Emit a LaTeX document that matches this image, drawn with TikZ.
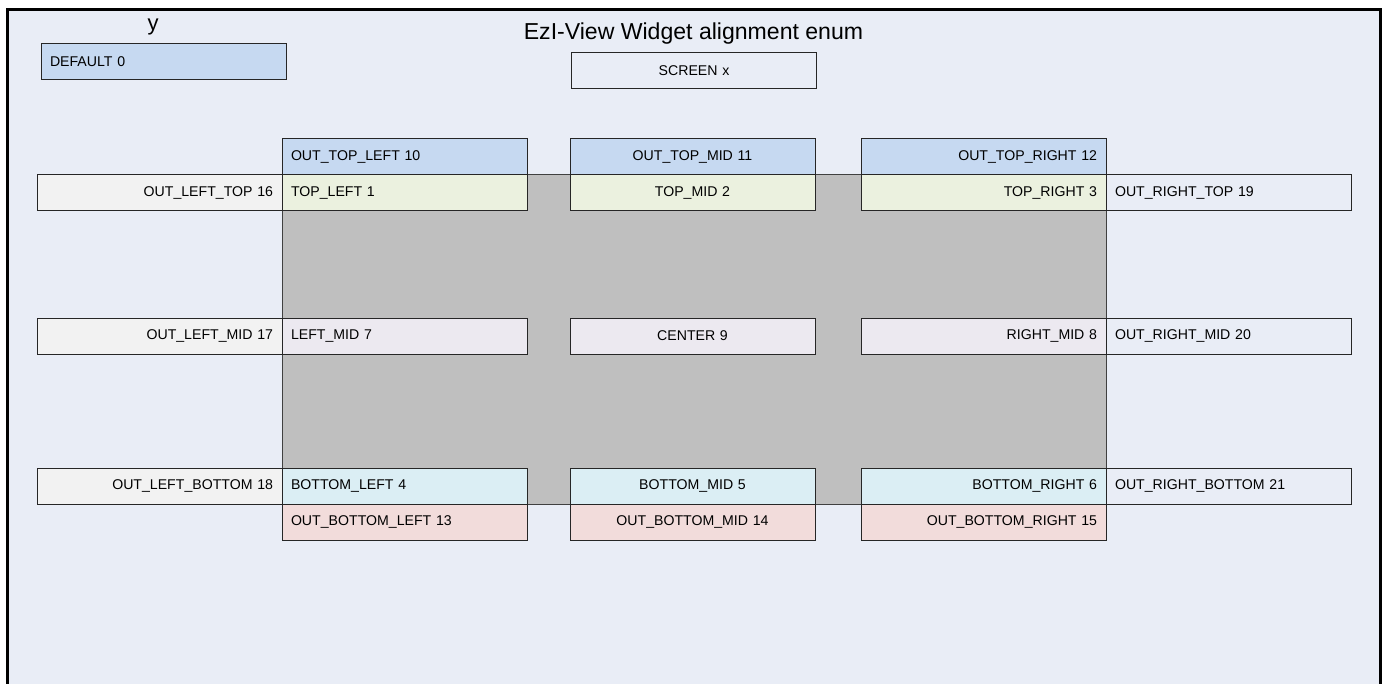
\documentclass[tikz,border=0pt]{standalone}
\usepackage{fontspec}
\setmainfont{Liberation Sans}
\definecolor{canvas}{HTML}{E9EDF6}
\definecolor{outtop}{HTML}{C6D9F1}
\definecolor{topc}{HTML}{EBF1DF}
\definecolor{midc}{HTML}{ECE9F0}
\definecolor{botc}{HTML}{DBEEF4}
\definecolor{outbot}{HTML}{F2DCDB}
\definecolor{outleft}{HTML}{F2F2F2}
\definecolor{screenarea}{HTML}{BFBFBF}
\tikzset{
  cell/.style={draw=black!85, line width=0.75pt, minimum width=183.75pt,
    minimum height=27pt, inner xsep=6.75pt, inner ysep=0pt, text width=170.25pt,
    font=\fontsize{10.6}{12}\selectfont, anchor=center},
  lcell/.style={cell, align=left},
  rcell/.style={cell, align=right},
  ccell/.style={cell, align=center},
}
\begin{document}
\begin{tikzpicture}[x=0.75pt, y=-0.75pt]
\useasboundingbox (0,0) rectangle (1384,684);
\clip (0,0) rectangle (1384,684);
% outer frame, open at the bottom of the page
\draw[line width=2.25pt, fill=canvas] (7.5,10) rectangle (1380.5,730);
% labels
\node[font=\fontsize{16.5}{18}\selectfont, anchor=base] (ylab) at (153,31) {y};
\node[font=\fontsize{17.3}{19}\selectfont, anchor=base] (title) at (693.5,40) {EzI-View Widget alignment enum};
\node[lcell, fill=outtop] (default) at (163.5,61.5) {DEFAULT 0};
\node[ccell, fill=canvas] (screen) at (694,71) {SCREEN x};
% screen area
\draw[fill=screenarea, draw=black!75, line width=0.75pt] (282,175) rectangle (1106,504);
% outside top
\node[lcell, fill=outtop] (otl) at (404.5,157) {OUT\_TOP\_LEFT 10};
\node[ccell, fill=outtop] (otm) at (692.5,157) {OUT\_TOP\_MID 11};
\node[rcell, fill=outtop] (otr) at (983.5,157) {OUT\_TOP\_RIGHT 12};
% top row
\node[rcell, fill=outleft] (olt) at (159.5,193) {OUT\_LEFT\_TOP 16};
\node[lcell, fill=topc] (tl) at (404.5,193) {TOP\_LEFT 1};
\node[ccell, fill=topc] (tm) at (692.5,193) {TOP\_MID 2};
\node[rcell, fill=topc] (tr) at (983.5,193) {TOP\_RIGHT 3};
\node[lcell, fill=canvas] (ort) at (1228.5,193) {OUT\_RIGHT\_TOP 19};
% middle row
\node[rcell, fill=outleft] (olm) at (159.5,336) {OUT\_LEFT\_MID 17};
\node[lcell, fill=midc] (lm) at (404.5,336) {LEFT\_MID 7};
\node[ccell, fill=midc] (ce) at (692.5,336) {CENTER 9};
\node[rcell, fill=midc] (rm) at (983.5,336) {RIGHT\_MID 8};
\node[lcell, fill=canvas] (orm) at (1228.5,336) {OUT\_RIGHT\_MID 20};
% bottom row
\node[rcell, fill=outleft] (olb) at (159.5,486) {OUT\_LEFT\_BOTTOM 18};
\node[lcell, fill=botc] (bl) at (404.5,486) {BOTTOM\_LEFT 4};
\node[ccell, fill=botc] (bm) at (692.5,486) {BOTTOM\_MID 5};
\node[rcell, fill=botc] (br) at (983.5,486) {BOTTOM\_RIGHT 6};
\node[lcell, fill=canvas] (orb) at (1228.5,486) {OUT\_RIGHT\_BOTTOM 21};
% outside bottom
\node[lcell, fill=outbot] (obl) at (404.5,522) {OUT\_BOTTOM\_LEFT 13};
\node[ccell, fill=outbot] (obm) at (692.5,522) {OUT\_BOTTOM\_MID 14};
\node[rcell, fill=outbot] (obr) at (983.5,522) {OUT\_BOTTOM\_RIGHT 15};
\end{tikzpicture}
\end{document}
